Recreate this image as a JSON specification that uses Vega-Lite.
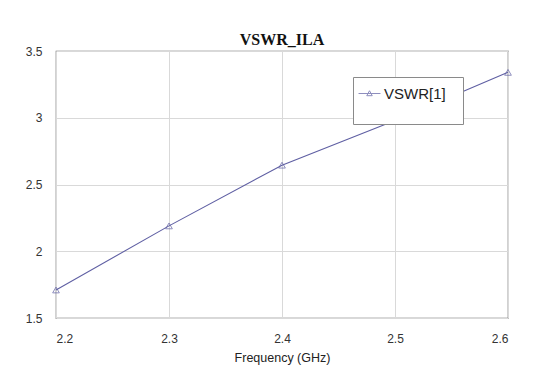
{
  "$schema": "https://vega.github.io/schema/vega-lite/v6.json",
  "autosize": {"type": "none"},
  "width": 452,
  "height": 267,
  "padding": {"left": 56, "top": 51, "right": 26, "bottom": 56},
  "background": "white",
  "title": {
    "text": "VSWR_ILA",
    "font": "Liberation Serif",
    "fontSize": 16,
    "fontWeight": "bold",
    "color": "#111111",
    "anchor": "middle",
    "offset": -3
  },
  "config": {
    "view": {"stroke": "#666666", "strokeWidth": 1.2},
    "axis": {
      "grid": true,
      "gridColor": "#d9d9d9",
      "gridWidth": 1,
      "domain": false,
      "ticks": false,
      "labelFont": "Liberation Sans",
      "labelFontSize": 12,
      "labelColor": "#333333",
      "titleFont": "Liberation Sans",
      "titleFontSize": 12.5,
      "titleFontWeight": "normal",
      "titleColor": "#222222"
    }
  },
  "data": {
    "values": [
      {"freq": 2.2, "vswr": 1.71, "series": "VSWR[1]"},
      {"freq": 2.3, "vswr": 2.19, "series": "VSWR[1]"},
      {"freq": 2.4, "vswr": 2.645, "series": "VSWR[1]"},
      {"freq": 2.5, "vswr": 2.98, "series": "VSWR[1]"},
      {"freq": 2.6, "vswr": 3.34, "series": "VSWR[1]"}
    ]
  },
  "encoding": {
    "x": {
      "field": "freq",
      "type": "quantitative",
      "scale": {"domain": [2.2, 2.6], "nice": false, "zero": false},
      "axis": {
        "values": [2.2, 2.3, 2.4, 2.5, 2.6],
        "format": "~g",
        "labelPadding": 15,
        "title": "Frequency (GHz)",
        "titlePadding": 7
      }
    },
    "y": {
      "field": "vswr",
      "type": "quantitative",
      "scale": {"domain": [1.5, 3.5], "nice": false, "zero": false},
      "axis": {
        "values": [1.5, 2, 2.5, 3, 3.5],
        "format": "~g",
        "labelPadding": 14,
        "title": null
      }
    },
    "color": {
      "field": "series",
      "type": "nominal",
      "scale": {"range": ["#5f5fa3"]},
      "legend": {
        "title": " ",
        "titleOrient": "right",
        "titleFontSize": 14,
        "titlePadding": 12,
        "orient": "none",
        "legendX": 297,
        "legendY": 26,
        "fillColor": "white",
        "strokeColor": "#8a8a8a",
        "padding": 5,
        "symbolType": "M-1,0H1M-0.25,0.2L0,-0.25L0.25,0.2Z",
        "symbolSize": 480,
        "symbolStrokeWidth": 1,
        "symbolFillColor": "white",
        "symbolStrokeColor": "#5f5fa3",
        "labelFont": "Liberation Sans",
        "labelFontSize": 15,
        "labelColor": "#222222",
        "labelOffset": 3,
        "labelBaseline": "middle",
        "labelExpr": "[datum.label, ' ']",
        "labelLineHeight": 18.5
      }
    }
  },
  "layer": [
    {"mark": {"type": "line", "strokeWidth": 1.1}},
    {"mark": {"type": "point", "shape": "triangle-up", "filled": false, "size": 45, "strokeWidth": 1}}
  ]
}
